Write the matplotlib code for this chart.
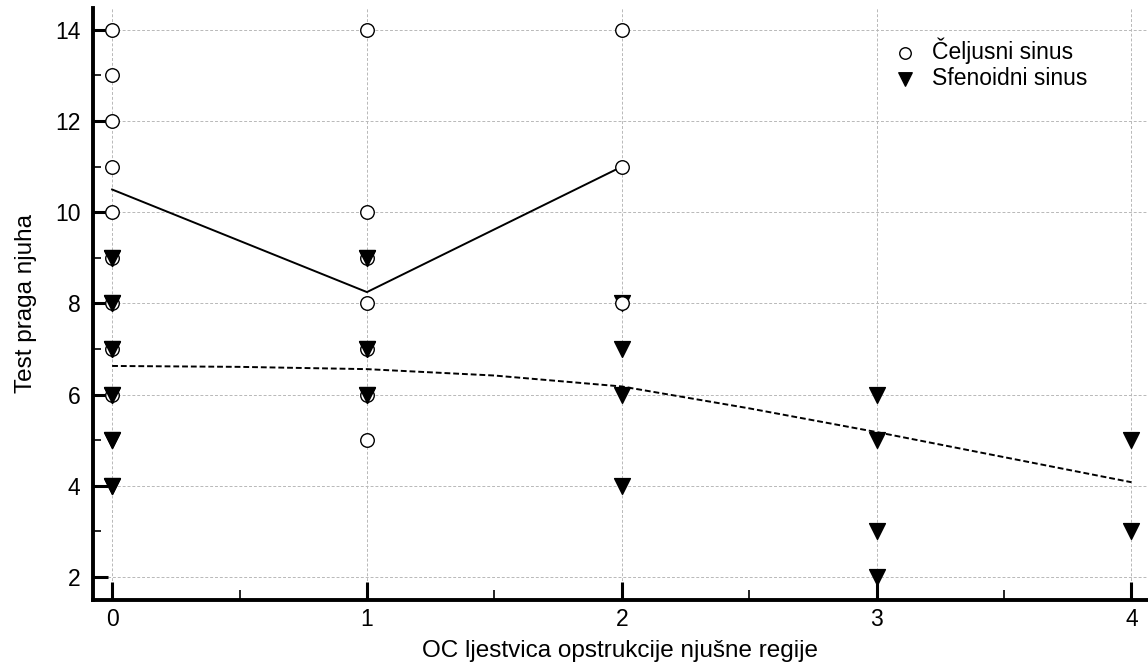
import matplotlib.pyplot as plt
from matplotlib.ticker import MultipleLocator

plt.rcParams['font.family'] = ['Liberation Sans', 'DejaVu Sans']
plt.rcParams['font.size'] = 16.5

# Čeljusni sinus (open circles)
celj_x = [0, 0, 0, 0, 0, 0, 0, 0, 0, 1, 1, 1, 1, 1, 1, 1, 2, 2, 2]
celj_y = [14, 13, 12, 11, 10, 9, 8, 7, 6, 14, 10, 9, 8, 7, 6, 5, 14, 11, 8]
# Sfenoidni sinus (filled triangles)
sfen_x = [0, 0, 0, 0, 0, 0, 1, 1, 1, 2, 2, 2, 2, 3, 3, 3, 3, 4, 4]
sfen_y = [9, 8, 7, 6, 5, 4, 9, 7, 6, 8, 7, 6, 4, 6, 5, 3, 2, 5, 3]

# smoothed trend lines
celj_fit_x = [0, 1, 2]
celj_fit_y = [10.5, 8.25, 11.0]
sfen_fit_x = [0, 0.5, 1, 1.5, 2, 2.5, 3, 3.5, 4]
sfen_fit_y = [6.63, 6.61, 6.56, 6.42, 6.18, 5.7, 5.18, 4.63, 4.08]

fig = plt.figure(figsize=(11.48, 6.68), dpi=100)
ax = fig.add_axes([0.081, 0.102, 0.919, 0.886])

ax.grid(True, which='major', color='#b8b8b8', linestyle=(0, (3, 2)), linewidth=0.7)
ax.set_axisbelow(True)

ax.plot(celj_fit_x, celj_fit_y, color='black', linewidth=1.4, zorder=2)
ax.plot(sfen_fit_x, sfen_fit_y, color='black', linewidth=1.4, linestyle=(0, (3, 1.5)), zorder=2)

ax.scatter(sfen_x, sfen_y, marker='v', s=130, color='black', zorder=3, label='Sfenoidni sinus')
ax.scatter(celj_x, celj_y, marker='o', s=95, facecolor='white', edgecolor='black',
           linewidth=1.0, zorder=3, label='Čeljusni sinus')
# triangles sitting on top of circles at x=0 and x=1
ax.scatter([x for x, y in zip(sfen_x, sfen_y) if x < 2],
           [y for x, y in zip(sfen_x, sfen_y) if x < 2],
           marker='v', s=130, color='black', zorder=4)

ax.set_xlim(-0.075, 4.065)
ax.set_ylim(1.5, 14.48)
ax.xaxis.set_major_locator(MultipleLocator(1))
ax.xaxis.set_minor_locator(MultipleLocator(0.5))
ax.yaxis.set_major_locator(MultipleLocator(2))
ax.yaxis.set_minor_locator(MultipleLocator(1))
ax.tick_params(which='major', direction='in', length=11, width=2.2, labelsize=16.5, pad=9)
ax.tick_params(which='minor', direction='in', length=6, width=1.2)
ax.tick_params(axis='x', which='major', length=13, pad=6)
ax.tick_params(axis='x', which='minor', length=7)

for side in ['top', 'right']:
    ax.spines[side].set_visible(False)
for side in ['left', 'bottom']:
    ax.spines[side].set_linewidth(2.8)

ax.set_xlabel('OC ljestvica opstrukcije njušne regije', fontsize=17.5, labelpad=6)
ax.set_ylabel('Test praga njuha', fontsize=17.5, labelpad=13)

handles, labels = ax.get_legend_handles_labels()
ax.legend(handles[::-1], labels[::-1], loc='upper left', bbox_to_anchor=(0.75, 0.975),
          bbox_transform=fig.transFigure, frameon=False, fontsize=16.5,
          handletextpad=0.2, labelspacing=0.15, markerscale=0.85)

fig.savefig('out.png', dpi=100)
